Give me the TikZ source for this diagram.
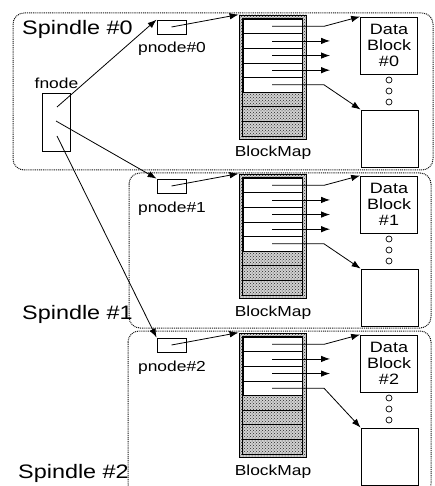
\documentclass[tikz,border=0pt]{standalone}
\usepackage{fontspec}
\setmainfont[FakeStretch=1.2]{Liberation Sans}
\usetikzlibrary{arrows.meta,patterns}
\tikzset{
  region/.style={draw=black!90, line width=1pt, dash pattern=on 1pt off 0.9pt, rounded corners=11pt},
  sbox/.style={draw, line width=0.8pt, inner sep=0pt},
  shade/.style={preaction={fill=black!18}, pattern=crosshatch dots, pattern color=black!85},
  txt/.style={inner sep=0pt, font=\fontsize{14.5}{16}\selectfont},
  big/.style={inner sep=0pt, font=\fontsize{19.5}{22}\selectfont},
  dbtxt/.style={font=\fontsize{15}{16}\selectfont},
  arr/.style={line width=0.8pt, -{Latex[length=9pt,width=6.5pt]}},
  rowline/.style={line width=0.7pt}
}
\newcommand{\SpGroup}[3]{%
\begin{scope}[shift={(0,#2)}]
  \node[sbox, minimum width=29, minimum height=14] (pn#1) at (171.5,27) {};
  \node[txt, anchor=base] (pl#1) at (172,53) {pnode\##1};
  \node[sbox, shade, minimum width=67, minimum height=124] (bmo#1) at (272.5,77) {};
  \node[sbox, fill=white, minimum width=59, minimum height=117] (bmi#1) at (272.5,77.5) {};
  \foreach \i in {#3,...,7} {
    \fill[shade] ({243},{19+\i*14.625}) rectangle ({302},{19+(\i+1)*14.625});
  }
  \foreach \i in {1,...,7} {
    \draw[rowline] ({243},{19+\i*14.625}) -- ({302},{19+\i*14.625});
  }
  \draw[line width=0.8pt] (bmi#1.north west) rectangle (bmi#1.south east);
  \node[txt, anchor=base] (bl#1) at (273,157) {BlockMap};
  \node[sbox, dbtxt, minimum size=57, align=center] (db#1) at (389,45.5) {Data\\Block\\\##1};
  \node[sbox, minimum size=57] (lb#1) at (389.5,138.5) {};
  \foreach \y in {80,91,102} { \draw[line width=0.7pt] (389,\y) circle (3pt); }
  \draw[arr] (pn#1.center) -- (bmo#1.north west);
  \pgfmathtruncatemacro\lastrow{#3-1}
  \pgfmathtruncatemacro\penult{#3-2}
  \foreach \i in {0,...,\lastrow} {
    \coordinate (a#1-\i) at ({272},{19+(\i+0.5)*14.625});
  }
  \draw[arr] (a#1-0) -- ++(52,0) -- (db#1.north west);
  \foreach \i in {1,...,\penult} { \draw[arr] (a#1-\i) -- ++(58,0); }
  \draw[arr] (a#1-\lastrow) -- ++(52,0) -- (lb#1.north west);
\end{scope}}
\begin{document}
\begin{tikzpicture}[x=1pt, y=-1pt]
  \useasboundingbox (0,0) rectangle (435,486);
  \clip (0,0) rectangle (435,486);
  % regions
  \draw[region] (13,13) rectangle (433,170);
  \draw[region] (129,173) rectangle (431,328);
  \draw[region] (128,331) rectangle (431,495);
  \node[big, anchor=base west] (s0) at (22,34.5) {Spindle \#0};
  \node[big, anchor=base west] (s1) at (22,319) {Spindle \#1};
  \node[big, anchor=base west] (s2) at (18,478) {Spindle \#2};
  % fnode
  \node[sbox, minimum width=28, minimum height=58] (fn) at (56,122) {};
  \node[txt, anchor=base] (fl) at (56.5,89) {fnode};
  \coordinate (f0) at (57,107);
  \coordinate (f1) at (56,121);
  \coordinate (f2) at (57,136);
  \SpGroup{0}{0}{5}
  \SpGroup{1}{159}{5}
  \SpGroup{2}{318}{4}
  \draw[arr] (f0) -- (pn0.north west);
  \draw[arr] (f1) -- (pn1.north west);
  \draw[arr] (f2) -- (pn2.north west);
\end{tikzpicture}
\end{document}
